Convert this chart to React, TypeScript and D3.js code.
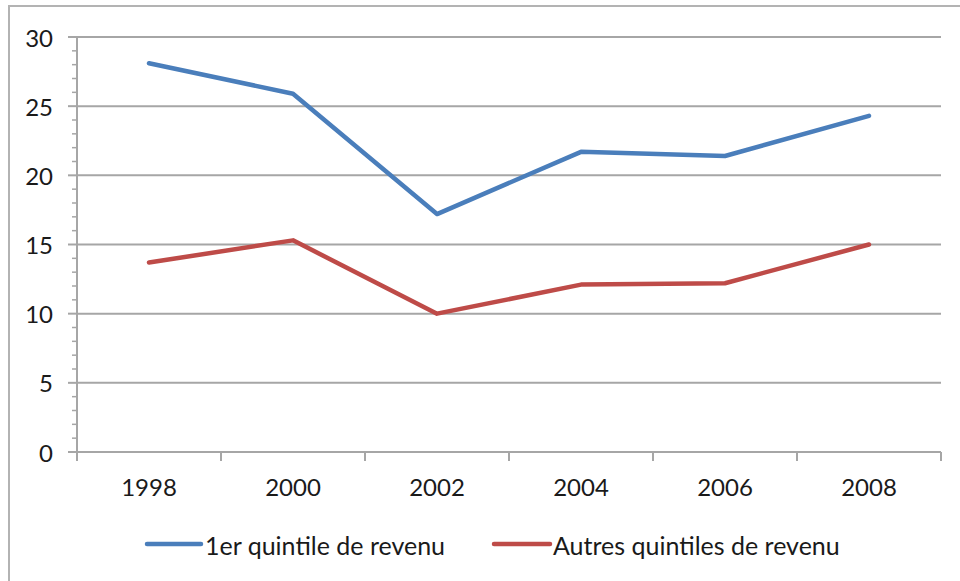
import React from "react";
import * as d3 from "d3";

const years = ["1998", "2000", "2002", "2004", "2006", "2008"];
const firstQuintile = [28.1, 25.9, 17.2, 21.7, 21.4, 24.3];
const otherQuintiles = [13.7, 15.3, 10.0, 12.1, 12.2, 15.0];
const yTicks = [0, 5, 10, 15, 20, 25, 30];
const seriesNames = ["1er quintile de revenu", "Autres quintiles de revenu"];
const seriesColors = ["#4A7EBB", "#BE4B48"];

const W = 960;
const H = 581;
const left = 77;
const right = 941;
const top = 37;
const bottom = 452;
const font = "Lato, 'Open Sans', sans-serif";

export default function App() {
  const x = d3.scaleBand<string>().domain(years).range([left, right]).padding(0);
  const y = d3.scaleLinear().domain([0, 30]).range([bottom, top]);
  const minor = d3.range(0, 31, 1);
  const line = d3
    .line<number>()
    .x((_, i) => (x(years[i]) as number) + x.bandwidth() / 2)
    .y((d) => y(d));
  const series = [firstQuintile, otherQuintiles];
  const boundaries = d3.range(years.length + 1).map((i) => left + i * x.bandwidth());
  const grid = "#A6A6A6";
  return (
    <svg
      width={W}
      height={H}
      style={{ position: "absolute", left: 0, top: 0, background: "#fff" }}
    >
      <rect x={9} y={6} width={W + 20} height={H + 20} fill="#fff" stroke="#B3B3B3" strokeWidth={2} />
      {yTicks.map((t) => (
        <g key={t}>
          {t > 0 && (
            <line x1={left} x2={right} y1={y(t)} y2={y(t)} stroke={grid} strokeWidth={2} />
          )}
          <line x1={left - 9} x2={left} y1={y(t)} y2={y(t)} stroke={grid} strokeWidth={2} />
          <text
            x={53}
            y={y(t)}
            textAnchor="end"
            dominantBaseline="central"
            fontFamily={font}
            fontSize={24}
            fill="#1a1a1a"
          >
            {t}
          </text>
        </g>
      ))}
      {minor
        .filter((m) => m % 5 !== 0)
        .map((m) => (
          <line key={m} x1={left - 5} x2={left} y1={y(m)} y2={y(m)} stroke={grid} strokeWidth={1.5} />
        ))}
      <line x1={left} x2={left} y1={top} y2={bottom + 9} stroke={grid} strokeWidth={2} />
      <line x1={left} x2={right} y1={bottom} y2={bottom} stroke={grid} strokeWidth={2} />
      {boundaries.map((b, i) => (
        <line key={i} x1={b} x2={b} y1={bottom} y2={bottom + 9} stroke={grid} strokeWidth={2} />
      ))}
      {years.map((yr) => (
        <text
          key={yr}
          x={(x(yr) as number) + x.bandwidth() / 2}
          y={496}
          textAnchor="middle"
          fontFamily={font}
          fontSize={24}
          fill="#1a1a1a"
        >
          {yr}
        </text>
      ))}
      {series.map((s, i) => (
        <path
          key={i}
          d={line(s) || ""}
          fill="none"
          stroke={seriesColors[i]}
          strokeWidth={4.5}
          strokeLinejoin="round"
          strokeLinecap="round"
        />
      ))}
      {[
        { x0: 147, x1: 201, tx: 205 },
        { x0: 494, x1: 550, tx: 553 },
      ].map((l, i) => (
        <g key={i}>
          <line x1={l.x0} x2={l.x1} y1={544} y2={544} stroke={seriesColors[i]} strokeWidth={4.5} strokeLinecap="round" />
          <text x={l.tx} y={545} dominantBaseline="central" fontFamily={font} fontSize={25} fill="#1a1a1a">
            {seriesNames[i]}
          </text>
        </g>
      ))}
    </svg>
  );
}
